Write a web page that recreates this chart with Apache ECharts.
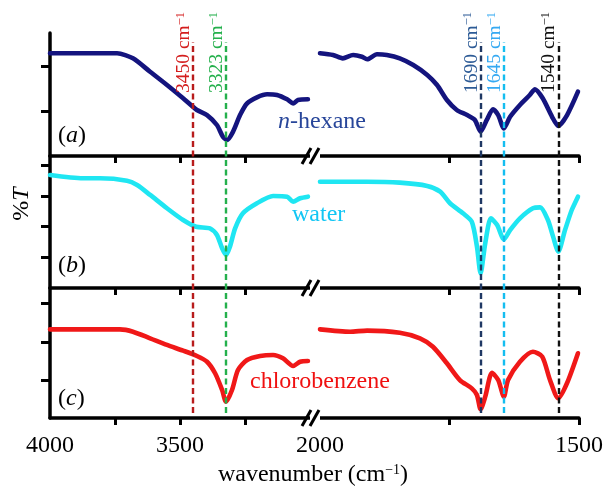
<!DOCTYPE html>
<html><head><meta charset="utf-8">
<script src="https://cdn.jsdelivr.net/npm/echarts@6/dist/echarts.min.js"></script>
<style>html,body{margin:0;padding:0;background:#fff}#c{width:606px;height:488px}</style>
</head><body><div id="c"></div>
<script>
// ---------- data (wavenumber cm-1, %T arbitrary units 0-100 per panel) ----------
const wnHexL = [4000,3742,3681,3615,3550,3488,3435,3396,3358,3335,3319,3296,3269,3242,3204,3165,3127,3088,3065,3046,3008];
const tHexL  = [83.5,83.5,79.4,68.5,57.7,46.9,37.4,33.3,25.2,15.7,13.0,19.8,33.3,42.8,47.7,50.2,49.6,46.1,42.8,45.5,46.1];
const wnHexR = [2000,1975,1956,1936,1919,1909,1890,1871,1846,1820,1793,1774,1755,1736,1716,1701,1690,1678,1666,1656,1645,1633,1614,1595,1585,1570,1552,1540,1523,1502];
const tHexR  = [83.5,82.1,79.4,82.1,80.7,78.6,82.7,82.1,79.4,74.0,65.9,57.7,45.5,37.4,33.3,29.3,19.8,29.3,38.0,33.3,22.5,31.9,41.5,49.6,54.2,46.9,31.9,24.4,33.3,52.3];

const wnWatL = [4000,3873,3808,3704,3665,3615,3550,3488,3438,3385,3358,3338,3323,3308,3288,3258,3204,3142,3088,3065,3038,3008];
const tWatL  = [85.6,83.1,83.1,81.3,78.0,70.5,60.4,51.5,46.4,45.2,40.2,30.1,25.0,31.3,45.2,56.6,64.2,69.7,69.2,65.4,68.0,69.2];
const wnWatR = [2000,1909,1846,1793,1768,1749,1724,1707,1697,1690,1681,1670,1658,1645,1633,1614,1589,1575,1560,1550,1540,1527,1514,1502];
const tWatR  = [80.5,80.5,79.8,77.3,73.0,64.2,56.6,50.2,31.3,11.1,33.9,52.8,47.7,36.9,43.9,52.8,60.4,61.1,51.5,38.9,27.5,43.9,59.1,69.2];

const wnClbL = [4000,3731,3681,3615,3550,3488,3435,3396,3365,3338,3323,3300,3277,3242,3192,3142,3104,3065,3038,3008];
const tClbL  = [68.2,68.2,66.4,61.3,56.2,51.8,47.7,43.3,34.4,21.5,12.5,21.5,36.9,44.6,47.7,48.5,45.9,40.0,43.3,43.8];
const wnClbR = [2000,1942,1909,1846,1807,1782,1755,1730,1707,1697,1690,1681,1668,1656,1645,1637,1614,1589,1571,1556,1540,1523,1502];
const tClbR  = [68.2,66.4,67.2,65.6,61.3,54.8,42.1,29.2,22.8,17.7,6.7,16.4,34.8,29.2,16.4,29.2,43.3,51.0,47.2,29.2,15.2,26.9,49.8];

const yTicksA = [36.6,73.2];
const yTicksB = [23.5,47.0,69.7,93.2];
const yTicksC = [29.2,58.5,88.5];

const xTickLabelsL = ['4000','3500'];
const xTickLabelsR = ['2000','1500'];
const xMinorL = [3750,3500,3250];
const xMinorR = [1750,1500];

const peakWn     = [3450,3323,1690,1645,1540];
const peakLabels = ['3450 cm','3323 cm','1690 cm','1645 cm','1540 cm'];
const seriesNames = ['n-hexane','water','chlorobenzene'];
const panelTags = ['a','b','c'];

// ---------- styles / layout ----------
const FONT = "'Liberation Serif','Times New Roman',serif";
const curveColors = ['#14147e','#1fe6f2','#f01818'];
const nameColors  = ['#28469a','#12c6f4','#f01010'];
const peakLineColors  = ['#b81c1c','#24b04c','#1f3864','#14bdf0','#111111'];
const peakLabelColors = ['#d41e1e','#24b04c','#2d5b96','#35a9f2','#111111'];
const panels = [
  {top:33, height:123, L:[wnHexL,tHexL], R:[wnHexR,tHexR], ticks:yTicksA},
  {top:156,height:132, L:[wnWatL,tWatL], R:[wnWatR,tWatR], ticks:yTicksB},
  {top:288,height:130, L:[wnClbL,tClbL], R:[wnClbR,tClbR], ticks:yTicksC}
];
const colL = {left:50, width:260, min:3000, max:4000};
const colR = {left:320, width:259, min:1500, max:2000};

const zip = (a,b) => a.map((v,i)=>[v,b[i]]);
const axisLineStyle = {color:'#000', width:3.5};
const grids=[], xAxes=[], yAxes=[], series=[];
panels.forEach((p,i)=>{
  [colL,colR].forEach((c,j)=>{
    const k = grids.length;
    grids.push({left:c.left, width:c.width, top:p.top, height:p.height});
    const last = (i===2);
    xAxes.push({
      gridIndex:k, type:'value', min:c.min, max:c.max, inverse:true,
      axisLine:{show:true, onZero:false, lineStyle:axisLineStyle},
      axisTick:{show:true, customValues:(j===0?xMinorL:xMinorR), length:7, lineStyle:{color:'#000', width:3}},
      axisLabel: last ? {show:true, customValues:(j===0?xTickLabelsL:xTickLabelsR).map(Number),
                   formatter:v=>String(v), margin:16, color:'#000', fontFamily:FONT, fontSize:24}
                 : {show:false},
      splitLine:{show:false}
    });
    yAxes.push(j===0 ? {
      gridIndex:k, type:'value', min:0, max:100,
      axisLine:{show:true, lineStyle:axisLineStyle},
      axisTick:{show:true, customValues:p.ticks, length:9, lineStyle:{color:'#000', width:3}},
      axisLabel:{show:false}, splitLine:{show:false}
    } : {gridIndex:k, type:'value', min:0, max:100, show:false, splitLine:{show:false}});
    const d = j===0 ? p.L : p.R;
    series.push({
      type:'line', name:seriesNames[i], xAxisIndex:k, yAxisIndex:k,
      data: zip(d[0], d[1]), showSymbol:false, smooth:0.25,
      lineStyle:{width:4.6, color:curveColors[i], cap:'round', join:'round'}, itemStyle:{color:curveColors[i]}, z:3
    });
  });
});
// overlay grids for the dashed reference lines spanning all panels
[colL,colR].forEach((c,j)=>{
  const k = grids.length;
  grids.push({left:c.left, width:c.width, top:42, height:371});
  xAxes.push({gridIndex:k, type:'value', min:c.min, max:c.max, inverse:true, show:false});
  yAxes.push({gridIndex:k, type:'value', min:0, max:1, show:false});
  const items = [];
  peakWn.forEach((w,i)=>{
    if (w>=c.min && w<=c.max) items.push({xAxis:w, lineStyle:{color:peakLineColors[i], type:[6,3.5], width:2.4}});
  });
  series.push({type:'line', xAxisIndex:k, yAxisIndex:k, data:[], z:5,
    markLine:{symbol:['none','none'], silent:true, animation:false, label:{show:false}, data:items}});
});

const chart = echarts.init(document.getElementById('c'));
chart.setOption({animation:false, grid:grids, xAxis:xAxes, yAxis:yAxes, series:series});

// ---------- text / decorations ----------
const g = [];
peakWn.forEach((w,i)=>{
  const axisIdx = (w>=colL.min) ? 6 : 7;
  const px = chart.convertToPixel({xAxisIndex:axisIdx}, w);
  g.push({type:'text', x:px+1, y:12, rotation:Math.PI/2, z:10,
    style:{text:'{n|'+peakLabels[i]+'}{s|\u22121}', align:'right', verticalAlign:'bottom',
      rich:{n:{fontFamily:FONT, fontSize:19.5, fill:peakLabelColors[i]},
            s:{fontFamily:FONT, fontSize:12.5, fill:peakLabelColors[i], verticalAlign:'top'}}}});
});
// series names
const namePos = [[278,122],[292,215],[250,382]];
g.push({type:'text', x:namePos[0][0], y:namePos[0][1], z:10, style:{text:'{i|n}{r|-hexane}', verticalAlign:'middle',
  rich:{i:{fontFamily:FONT,fontSize:24,fontStyle:'italic',fill:nameColors[0]}, r:{fontFamily:FONT,fontSize:24,fill:nameColors[0]}}}});
g.push({type:'text', x:namePos[1][0], y:namePos[1][1], z:10, style:{text:seriesNames[1], verticalAlign:'middle', fontFamily:FONT, fontSize:24, fill:nameColors[1]}});
g.push({type:'text', x:namePos[2][0], y:namePos[2][1], z:10, style:{text:seriesNames[2], verticalAlign:'middle', fontFamily:FONT, fontSize:24, fill:nameColors[2]}});
// panel tags
const tagY = [136,266,399];
panelTags.forEach((t,i)=>{
  g.push({type:'text', x:58, y:tagY[i], z:10, style:{text:'{n|(}{i|'+t+'}{n|)}', verticalAlign:'middle',
    rich:{n:{fontFamily:FONT,fontSize:24,fill:'#000'}, i:{fontFamily:FONT,fontSize:24,fontStyle:'italic',fill:'#000'}}}});
});
// y axis title
g.push({type:'text', x:22, y:204, rotation:Math.PI/2, z:10, style:{text:'{n|%}{i|T}', align:'center', verticalAlign:'middle',
  rich:{n:{fontFamily:FONT,fontSize:24,fill:'#000'}, i:{fontFamily:FONT,fontSize:24,fontStyle:'italic',fill:'#000'}}}});
// x axis title
g.push({type:'text', x:313, y:475, z:10, style:{text:'{n|wavenumber (cm}{s|\u22121}{n|)}', align:'center', verticalAlign:'middle',
  rich:{n:{fontFamily:FONT,fontSize:24,fill:'#000'}, s:{fontFamily:FONT,fontSize:14,fill:'#000',verticalAlign:'top'}}}});
// axis break marks
[156,288,418].forEach(y=>{
  g.push({type:'rect', shape:{x:310,y:y-6,width:10,height:12}, style:{fill:'#fff'}, z:8});
  g.push({type:'line', shape:{x1:302,y1:y+8,x2:311,y2:y-8}, style:{stroke:'#000', lineWidth:3}, z:9});
  g.push({type:'line', shape:{x1:310,y1:y+8,x2:319,y2:y-8}, style:{stroke:'#000', lineWidth:3}, z:9});
});
chart.setOption({graphic:g});
</script></body></html>
